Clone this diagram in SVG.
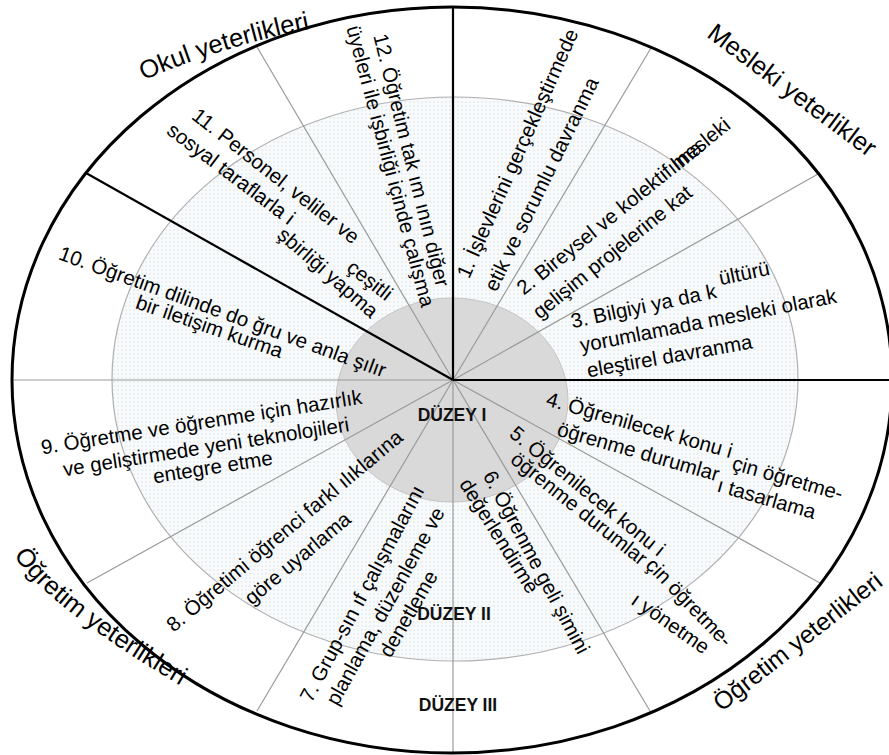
<svg xmlns="http://www.w3.org/2000/svg" width="889" height="755" viewBox="0 0 889 755">
<defs>
<pattern id="dots" width="4" height="4" patternUnits="userSpaceOnUse">
<rect width="4" height="4" fill="#f8fafb"/>
<circle cx="2" cy="2" r="0.75" fill="#d2e2e8"/>
</pattern>
<path id="pOkul" d="M121.3,89.6 L149,78 Q224.1,46.4 304,30 L333.4,24"/>
<path id="pMes" d="M688,23 L886,171"/>
<path id="pOgL" d="M-0.4,535.5 L17,560 Q51.5,608.5 176,683 L201.7,698.4"/>
<path id="pOgR" d="M700,729 L905.5,567.5"/>
</defs>
<style>
.t{font-family:"Liberation Sans",Arial,sans-serif;font-size:20.5px;fill:#000;dominant-baseline:central}
.m{text-anchor:middle}
.lab{font-family:"Liberation Sans",Arial,sans-serif;font-size:25.5px;fill:#000;text-anchor:middle}
.lab2{font-size:24.8px}
.dz{font-family:"Liberation Sans",Arial,sans-serif;font-size:17.5px;font-weight:bold;fill:#111;text-anchor:middle;dominant-baseline:central}
.thin{stroke:#9a9a9a;stroke-width:1.2;fill:none}
.thick{stroke:#000;stroke-width:2.2;fill:none}
</style>
<rect width="889" height="755" fill="#fff"/>
<g id="rings">
<ellipse cx="452" cy="380" rx="440" ry="373" fill="#fff"/>
<ellipse cx="455" cy="379" rx="343" ry="282" fill="url(#dots)" stroke="#b0b0b0" stroke-width="1.2"/>
<ellipse cx="452" cy="400" rx="116" ry="102" fill="#d9d9d9" stroke="#c4c4c4" stroke-width="1"/>
</g>
<g id="connectors">
<line class="thin" x1="453" y1="380" x2="651" y2="48"/>
<line class="thin" x1="453" y1="380" x2="818" y2="174"/>
<line class="thin" x1="453" y1="380" x2="820" y2="583"/>
<line class="thin" x1="453" y1="380" x2="650" y2="711"/>
<line class="thin" x1="453" y1="380" x2="453" y2="753"/>
<line class="thin" x1="453" y1="380" x2="257" y2="711"/>
<line class="thin" x1="453" y1="380" x2="87" y2="583"/>
<line class="thin" x1="453" y1="380" x2="12" y2="380"/>
<line class="thin" x1="453" y1="380" x2="257" y2="47"/>
<line class="thick" x1="453" y1="380" x2="453" y2="7"/>
<line class="thick" x1="453" y1="380" x2="892" y2="380"/>
<line class="thick" x1="453" y1="380" x2="86" y2="173"/>
</g>
<ellipse cx="452" cy="380" rx="440" ry="373" fill="none" stroke="#000" stroke-width="3"/>
<g id="labels">
<text class="lab"><textPath href="#pOkul" startOffset="50%">Okul yeterlikleri</textPath></text>
<text class="lab"><textPath href="#pMes" startOffset="50%">Mesleki yeterlikler</textPath></text>
<text class="lab"><textPath href="#pOgL" startOffset="50%">Öğretim yeterlikleri</textPath></text>
<text class="lab lab2"><textPath href="#pOgR" startOffset="50%">Öğretim yeterlikleri</textPath></text>
</g>
<g id="levels">
<text class="dz" x="452" y="415">DÜZEY I</text>
<text class="dz" x="454" y="614">DÜZEY II</text>
<text class="dz" x="458" y="705">DÜZEY III</text>
</g>
<g id="n1">
<text class="t m" transform="translate(517,153) rotate(-66)">1. İşlevlerini gerçekleştirmede</text>
<text class="t m" transform="translate(541,184) rotate(-64)">etik ve sorumlu davranma</text>
</g>
<g id="n2">
<text class="t" transform="translate(519,290) rotate(-39)">2. Bireysel ve kolektif mesleki</text>
<text class="t" transform="translate(535,314) rotate(-39)">gelişim projelerine kat</text>
<text class="t" transform="translate(669,169) rotate(-39)">ılma</text>
</g>
<g id="n3">
<text class="t" transform="translate(571,321) rotate(-12)">3. Bilgiyi ya da k</text>
<text class="t" transform="translate(719,278) rotate(-12)">ültürü</text>
<text class="t" transform="translate(580,345) rotate(-11)">yorumlamada mesleki olarak</text>
<text class="t" transform="translate(587,370) rotate(-10)">eleştirel davranma</text>
</g>
<g id="n4">
<text class="t" transform="translate(547,398) rotate(16)">4. Öğrenilecek konu i</text>
<text class="t" transform="translate(733,462) rotate(16)">çin öğretme-</text>
<text class="t" transform="translate(558,428) rotate(16)">öğrenme durumlar</text>
<text class="t" transform="translate(718,484) rotate(16)">ı tasarlama</text>
</g>
<g id="n5">
<text class="t" transform="translate(513,430) rotate(39)">5. Öğrenilecek konu i</text>
<text class="t" transform="translate(514,456) rotate(38.5)">öğrenme durumlar</text>
<text class="t" transform="translate(650,561) rotate(46)">çin öğretme-</text>
<text class="t" transform="translate(634,597) rotate(35)">ı yönetme</text>
</g>
<g id="n6">
<text class="t" transform="translate(489,472) rotate(62)">6. Öğrenme geli şimini</text>
<text class="t" transform="translate(465,480) rotate(58)">değerlendirme</text>
</g>
<g id="n7">
<text class="t" transform="translate(305,700) rotate(-62)">7. Grup-sın ıf çalışmalarını</text>
<text class="t" transform="translate(331,703) rotate(-61)">planlama, düzenleme ve</text>
<text class="t" transform="translate(384,655) rotate(-60)">denetleme</text>
</g>
<g id="n8">
<text class="t" transform="translate(169,627) rotate(-40)">8. Öğretimi öğrenci farkl ılıklarına</text>
<text class="t" transform="translate(247,600) rotate(-40)">göre uyarlama</text>
</g>
<g id="n9">
<text class="t" transform="translate(41,447) rotate(-9)">9. Öğretme ve öğrenme için hazırlık</text>
<text class="t" transform="translate(63,469) rotate(-9)">ve geliştirmede yeni teknolojileri</text>
<text class="t" transform="translate(153,476) rotate(-9)">entegre etme</text>
</g>
<g id="n10">
<text class="t" transform="translate(60,252) rotate(20)">10. Öğretim dilinde do ğru ve anla şılır</text>
<text class="t" transform="translate(137,301) rotate(19)">bir iletişim kurma</text>
</g>
<g id="n11">
<text class="t" transform="translate(195,112) rotate(38)">11. Personel, veliler ve</text>
<text class="t" transform="translate(170,127) rotate(37)">sosyal taraflarla i</text>
<text class="t" transform="translate(350,264) rotate(38)">çeşitli</text>
<text class="t" transform="translate(281,231) rotate(41)">şbirliği yapma</text>
</g>
<g id="n12">
<text class="t m" transform="translate(412,160) rotate(76)">12. Öğretim tak ım ının diğer</text>
<text class="t m" transform="translate(391,166) rotate(75)">üyeleri ile işbirliği içinde çalışma</text>
</g>
</svg>
